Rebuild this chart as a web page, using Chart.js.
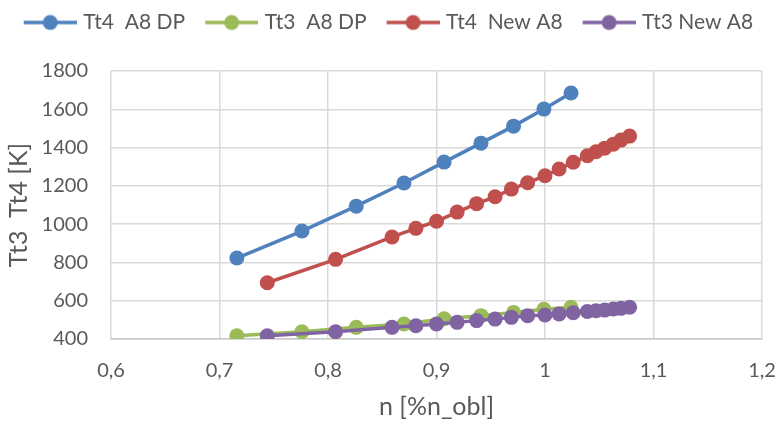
<!DOCTYPE html>
<html>
<head>
<meta charset="utf-8">
<script src="https://cdn.jsdelivr.net/npm/chart.js@4"></script>
<style>
  html, body { margin: 0; padding: 0; background: #fff; }
  #wrap { width: 779px; height: 426px; }
</style>
</head>
<body>
<div id="wrap"><canvas id="myChart" width="779" height="426"></canvas></div>
<script>
const seriesNames = ['Tt4  A8 DP', 'Tt3  A8 DP', 'Tt4  New A8', 'Tt3 New A8'];
const seriesColors = ['#4f81bd', '#9bbb59', '#c0504d', '#8064a2'];

// design point A8 runs
const nDP = [0.716, 0.776, 0.826, 0.870, 0.907, 0.941, 0.971, 0.999, 1.024];
const tt4DP = [823, 964, 1094, 1215, 1324, 1423, 1512, 1601, 1685];
const tt3DP = [417, 438, 461, 478, 506, 522, 539, 555, 566];

// new A8 runs
const nNew = [0.744, 0.807, 0.859, 0.881, 0.900, 0.919, 0.937, 0.954, 0.969, 0.984,
              1.000, 1.013, 1.026, 1.039, 1.047, 1.055, 1.063, 1.070, 1.078];
const tt4New = [694, 816, 933, 978, 1015, 1063, 1107, 1143, 1183, 1216,
                1253, 1288, 1323, 1357, 1378, 1397, 1418, 1439, 1460];
const tt3New = [417, 438, 461, 469, 478, 487, 496, 504, 513, 522,
                525, 531, 537, 544, 548, 551, 557, 560, 566];

const xTicks = [0.6, 0.7, 0.8, 0.9, 1.0, 1.1, 1.2];
const xTickLabels = ['0,6', '0,7', '0,8', '0,9', '1', '1,1', '1,2'];
const yTicks = [400, 600, 800, 1000, 1200, 1400, 1600, 1800];
const yTickLabels = ['400', '600', '800', '1000', '1200', '1400', '1600', '1800'];

const textColor = '#595959';
const gridColor = '#d9d9d9';
const tickFont = { family: 'Lato', size: 20 };
const titleFont = { family: 'Lato', size: 25 };
const legendFont = { family: 'Lato', size: 21 };

function toPoints(xs, ys) {
    return xs.map((x, i) => ({ x: x, y: ys[i] }));
}

// little line + dot used as legend symbol
function legendMark(color) {
    const c = document.createElement('canvas');
    c.width = 72;
    c.height = 18;
    const g = c.getContext('2d');
    g.strokeStyle = color;
    g.lineWidth = 3.5;
    g.beginPath();
    g.moveTo(19, 9);
    g.lineTo(72, 9);
    g.stroke();
    g.fillStyle = color;
    g.beginPath();
    g.arc(45.5, 9, 7.5, 0, Math.PI * 2);
    g.fill();
    return c;
}

function makeSet(i, xs, ys, order) {
    return {
        label: seriesNames[i],
        data: toPoints(xs, ys),
        borderColor: seriesColors[i],
        backgroundColor: seriesColors[i],
        pointBackgroundColor: seriesColors[i],
        pointBorderColor: seriesColors[i],
        borderWidth: 3.5,
        pointRadius: 7.5,
        pointHoverRadius: 7.5,
        pointBorderWidth: 0,
        tension: 0,
        order: order
    };
}

// legend sits in a taller band above the plot, like the excel original
const legendSpace = {
    id: 'legendSpace',
    afterInit(chart) {
        const legend = chart.legend;
        const fit = legend.fit;
        legend.fit = function () {
            fit.call(this);
            this.height = 64;
        };
    }
};

const ctx = document.getElementById('myChart').getContext('2d');
const myChart = new Chart(ctx, {
    type: 'line',
    data: {
        datasets: [
            makeSet(0, nDP, tt4DP, 4),
            makeSet(1, nDP, tt3DP, 3),
            makeSet(2, nNew, tt4New, 2),
            makeSet(3, nNew, tt3New, 1)
        ]
    },
    plugins: [legendSpace],
    options: {
        responsive: false,
        animation: false,
        layout: { padding: { top: 7, left: 0, right: 17, bottom: 0 } },
        plugins: {
            tooltip: { enabled: false },
            legend: {
                position: 'top',
                labels: {
                    usePointStyle: true,
                    pointStyleWidth: 64,
                    padding: 5,
                    color: textColor,
                    font: legendFont,
                    generateLabels: (chart) => chart.data.datasets.map((ds, i) => ({
                        text: ds.label,
                        pointStyle: legendMark(ds.borderColor),
                        fillStyle: ds.borderColor,
                        strokeStyle: ds.borderColor,
                        lineWidth: 0,
                        fontColor: textColor,
                        hidden: !chart.isDatasetVisible(i),
                        datasetIndex: i
                    }))
                }
            }
        },
        scales: {
            x: {
                type: 'linear',
                min: 0.6,
                max: 1.2,
                afterBuildTicks: (scale) => { scale.ticks = xTicks.map(v => ({ value: v })); },
                afterFit: (scale) => {
                    scale.height = 87;
                    scale.paddingLeft = 0;
                    scale.paddingRight = 0;
                },
                ticks: {
                    color: textColor,
                    font: tickFont,
                    padding: 20,
                    maxRotation: 0,
                    callback: (value, index) => xTickLabels[index]
                },
                grid: { color: gridColor, lineWidth: 1.5, drawTicks: false },
                border: { color: '#c8c8c8', width: 1.5 },
                title: {
                    display: true,
                    text: 'n [%n_obl]',
                    color: textColor,
                    font: titleFont,
                    padding: { top: 0, bottom: 4 }
                }
            },
            y: {
                min: 400,
                max: 1800,
                afterBuildTicks: (scale) => { scale.ticks = yTicks.map(v => ({ value: v })); },
                afterFit: (scale) => { scale.width = 111; },
                ticks: {
                    color: textColor,
                    font: tickFont,
                    padding: 23,
                    callback: (value, index) => yTickLabels[index]
                },
                grid: { color: gridColor, lineWidth: 1.5, drawTicks: false },
                border: { display: false },
                title: {
                    display: true,
                    text: 'Tt3  Tt4 [K]',
                    color: textColor,
                    font: titleFont,
                    padding: { top: 4, bottom: 0 }
                }
            }
        }
    }
});
</script>
</body>
</html>
